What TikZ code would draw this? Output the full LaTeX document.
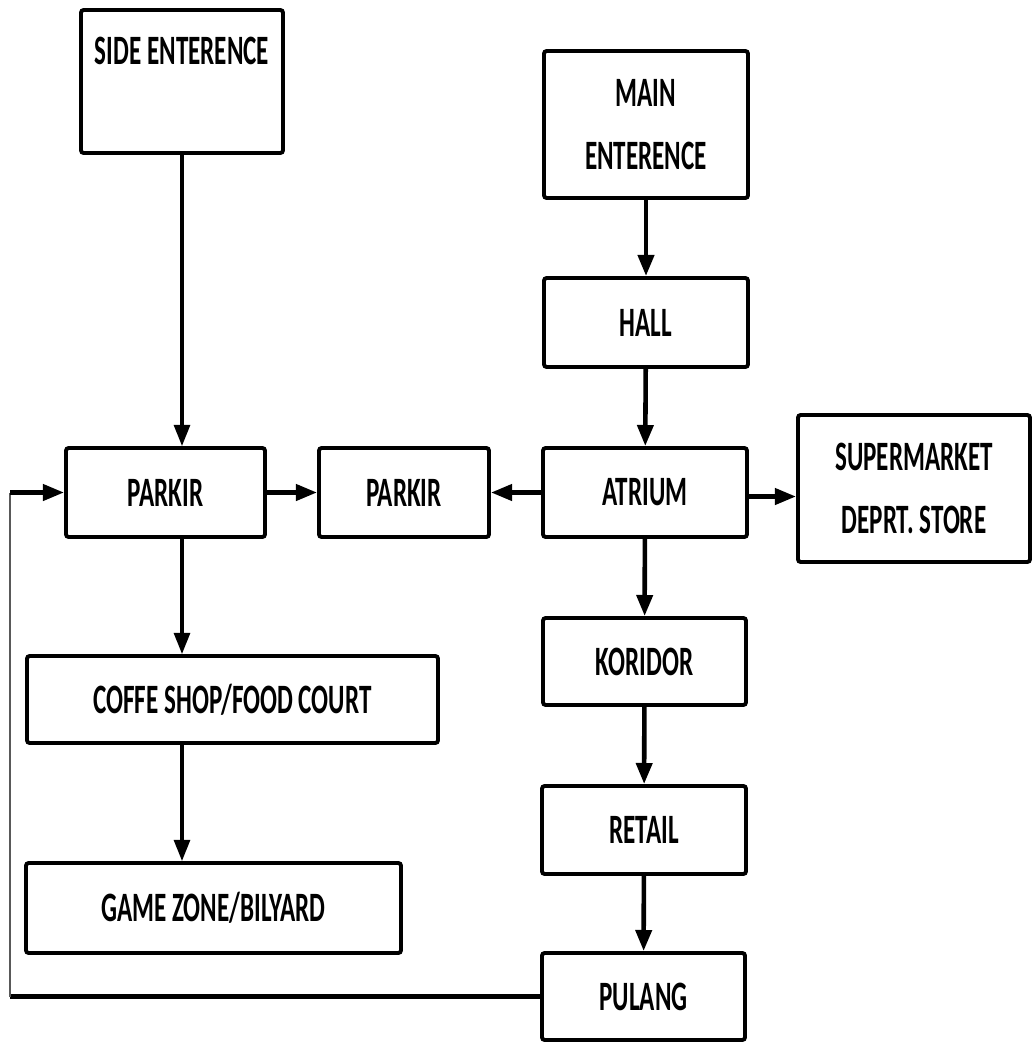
\documentclass[tikz,border=0pt]{standalone}
\usepackage{fontspec}
\setmainfont[FakeStretch=0.6]{Carlito}
\usetikzlibrary{arrows.meta,calc}
\begin{document}
\begin{tikzpicture}[x=0.02cm,y=-0.02cm,
  box/.style={draw, line width=2.2pt, rounded corners=1.5pt, fill=white,
    align=center, inner sep=0pt,
    font=\fontsize{23.8}{36.3}\selectfont\bfseries},
  sz/.style 2 args={minimum width=#1*0.02cm, minimum height=#2*0.02cm},
  tip/.style={-{Triangle[length=12pt,width=9pt]}},
  flow/.style={tip, line width=2.6pt},
  flowthin/.style={tip, line width=1.8pt},
  link/.style={line width=2.6pt},
  returnline/.style={line width=0.9pt, black!65}]
\useasboundingbox (0,0) rectangle (1034,1042);

% left branch
\node[box, sz={202}{143},
  label={[anchor=center, yshift=-43*0.02cm, font=\fontsize{23.8}{36.3}\selectfont\bfseries]north:SIDE ENTERENCE}]
  (side) at (182,81.5) {};
\node[box, sz={199}{89}] (parkir1) at (165.5,492.5) {PARKIR};
\node[box, sz={170}{89}] (parkir2) at (404,492.5) {PARKIR};
\node[box, sz={411}{87}] (coffe) at (232.5,699.5) {COFFE SHOP/FOOD COURT};
\node[box, sz={375}{90}] (game) at (213.5,908) {GAME ZONE/BILYARD};

% main column
\node[box, sz={204}{147}] (main) at (646,124.5) {MAIN\\ENTERENCE};
\node[box, sz={204}{89}] (hall) at (646,322.5) {HALL};
\node[box, sz={204}{89}] (atrium) at (645,492.5) {ATRIUM};
\node[box, sz={232}{147}] (super) at (914,488.5) {SUPERMARKET\\DEPRT. STORE};
\node[box, sz={203}{87}] (koridor) at (644.5,661.5) {KORIDOR};
\node[box, sz={204}{88}] (retail) at (644,830) {RETAIL};
\node[box, sz={203}{87}] (pulang) at (643.5,996.5) {PULANG};

% connectors, left branch
\draw[flowthin] (side.south) -- (side.south |- parkir1.north);
\draw[flowthin] (parkir1.south -| side.south) -- (coffe.north -| side.south);
\draw[flowthin] (coffe.south -| side.south) -- (game.north -| side.south);
\draw[flow] (parkir1.east) -- (parkir2.west);

% connectors, main column
\draw[flow] (main) -- (hall);
\draw[flow] (hall) -- (atrium);
\draw[flow] (atrium.west) -- (parkir2.east);
\draw[flow] ([yshift=-4*0.02cm]atrium.east) -- ([yshift=-4*0.02cm]atrium.east -| super.west);
\draw[flow] (atrium) -- (koridor);
\draw[flow] (koridor) -- (retail);
\draw[flow] (retail) -- (pulang);

% return path from PULANG back to the first PARKIR
\coordinate (rb) at (10,996.5);
\coordinate (rt) at (10,492.5);
\draw[link] (pulang.west) -- (rb);
\draw[returnline] (rb) -- (rt);
\draw[flow] (rt) -- (parkir1.west);
\end{tikzpicture}
\end{document}
